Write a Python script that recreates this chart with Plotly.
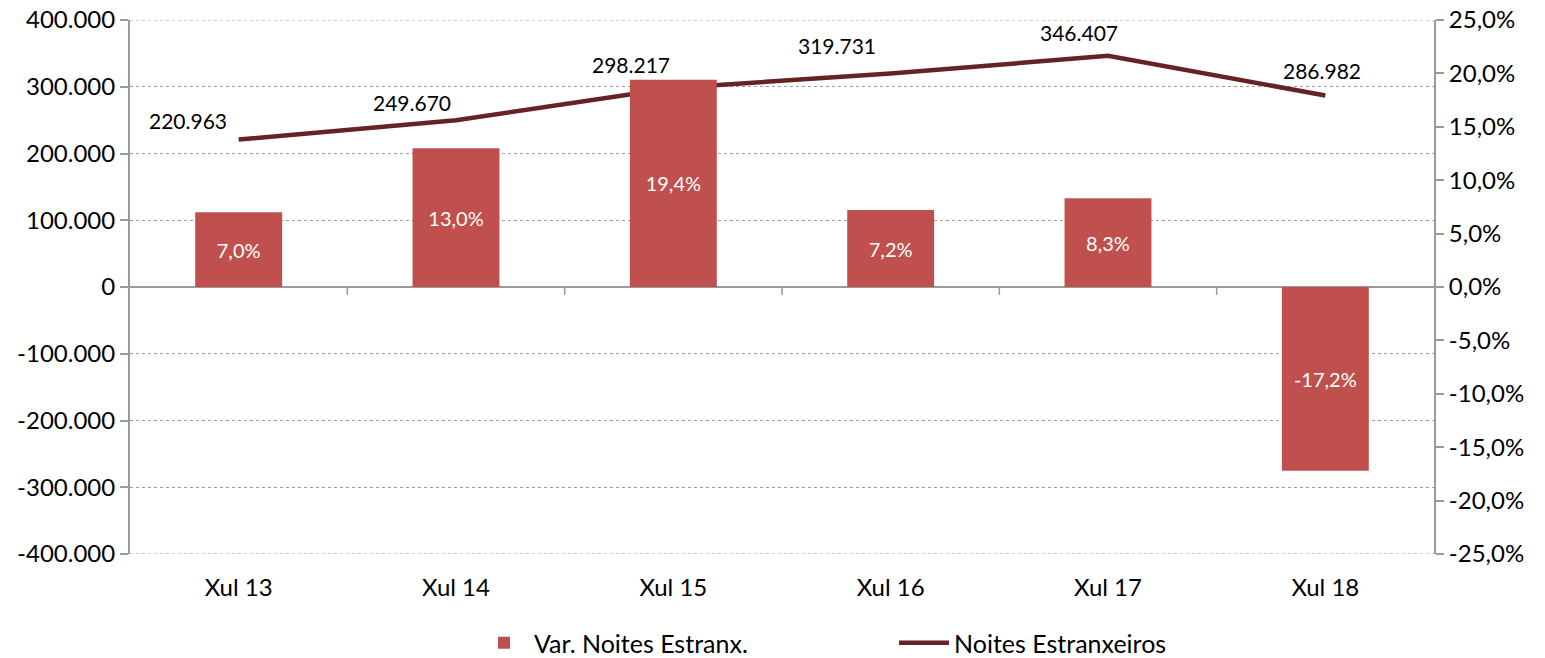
import plotly.graph_objects as go

categories = ["Xul 13", "Xul 14", "Xul 15", "Xul 16", "Xul 17", "Xul 18"]
var_noites = [0.070, 0.130, 0.194, 0.072, 0.083, -0.172]
noites_estranxeiros = [220963, 249670, 298217, 319731, 346407, 286982]

left_ticks = list(range(-400000, 400001, 100000))
right_ticks = [i / 100 for i in range(-25, 26, 5)]

# label offsets (px) for the line's data labels, as placed in the original
label_xshift = [-51, -44, -42, -54, -29, -3]
label_yshift = [19, 18, 23, 28, 23, 25]


def fmt_pct(v):
    return f"{v*100:.1f}%".replace(".", ",")


def fmt_int(v):
    return f"{v:,}".replace(",", ".")


FONT = "Lato"
BAR_COLOR = "#C0504D"
LINE_COLOR = "#652323"
AXIS_COLOR = "#9A9A9A"
GRID_COLOR = "#9E9E9E"

W, H = 1545, 666  # a little taller than the window; the extra strip is blank
M_T, M_B, M_L, M_R = 20, 0, 130, 1545 - 1434
PLOT_BOTTOM_PX = 554
area_h = H - M_T - M_B
area_w = W - M_L - M_R
dom0 = (H - M_B - PLOT_BOTTOM_PX) / area_h

fig = go.Figure()

fig.add_trace(go.Bar(
    x=categories, y=var_noites, yaxis="y2",
    name="Var. Noites Estranx.",
    marker=dict(color=BAR_COLOR, line=dict(width=0)),
    width=0.4,
    text=[fmt_pct(v) for v in var_noites],
    textposition="inside", insidetextanchor="middle",
    textfont=dict(color="white", size=20, family=FONT),
    textangle=0,
))

fig.add_trace(go.Scatter(
    x=categories, y=noites_estranxeiros, yaxis="y",
    name="Noites Estranxeiros",
    mode="lines",
    line=dict(color=LINE_COLOR, width=4.5),
))

for i, (c, v) in enumerate(zip(categories, noites_estranxeiros)):
    fig.add_annotation(
        x=c, y=v, xref="x", yref="y", text=fmt_int(v), showarrow=False,
        xanchor="center", yanchor="middle",
        xshift=label_xshift[i], yshift=label_yshift[i],
        font=dict(size=21, family=FONT, color="black"),
    )

# small tick marks at category boundaries on the zero line
for i in range(1, len(categories)):
    fig.add_shape(type="line", xref="x", yref="y",
                  x0=i - 0.5, x1=i - 0.5, y0=0, y1=-12000,
                  line=dict(color=AXIS_COLOR, width=1.5))

# gridlines at the two ends of the value range (plotly skips those)
for v in (left_ticks[0], left_ticks[-1]):
    fig.add_shape(type="line", xref="paper", yref="y",
                  x0=0, x1=1, y0=v, y1=v, layer="below",
                  line=dict(color=GRID_COLOR, width=1, dash="dot"))

fig.update_layout(
    width=W, height=H,
    margin=dict(l=M_L, r=M_R, t=M_T, b=M_B),
    plot_bgcolor="white", paper_bgcolor="white",
    font=dict(family=FONT, size=22, color="black"),
    bargap=0.6,
    showlegend=True,
    legend=dict(orientation="h", x=(474 - M_L) / area_w, xanchor="left",
                y=0, yanchor="bottom",
                font=dict(size=25, family=FONT),
                entrywidth=355, itemwidth=50),
    xaxis=dict(
        type="category", showline=False, showgrid=False,
        ticks="outside", ticklen=12, tickcolor="rgba(0,0,0,0)",
        tickfont=dict(size=24, family=FONT), range=[-0.5, 5.5],
        automargin=False,
    ),
    yaxis=dict(
        domain=[dom0, 1],
        range=[-400000, 400000], tickvals=left_ticks,
        ticktext=[fmt_int(v) for v in left_ticks],
        showline=True, linecolor=AXIS_COLOR, linewidth=2,
        ticks="outside", ticklen=8, tickcolor=AXIS_COLOR, tickwidth=2,
        showgrid=True, gridcolor=GRID_COLOR, griddash="dot", gridwidth=1,
        zeroline=True, zerolinecolor=AXIS_COLOR, zerolinewidth=2,
        tickfont=dict(size=24, family=FONT),
        ticklabeloverflow="allow",
        automargin=False,
    ),
    yaxis2=dict(
        overlaying="y", side="right",
        range=[-0.25, 0.25], tickvals=right_ticks,
        ticktext=[fmt_pct(v) for v in right_ticks],
        showline=True, linecolor=AXIS_COLOR, linewidth=2,
        ticks="outside", ticklen=8, tickcolor=AXIS_COLOR, tickwidth=2,
        showgrid=False, zeroline=False,
        tickfont=dict(size=24, family=FONT),
        ticklabeloverflow="allow",
        automargin=False,
    ),
)

fig.write_html(
    "out.html",
    config={"displayModeBar": False},
    post_script="document.body.style.margin='0';document.body.style.overflow='hidden';",
)
